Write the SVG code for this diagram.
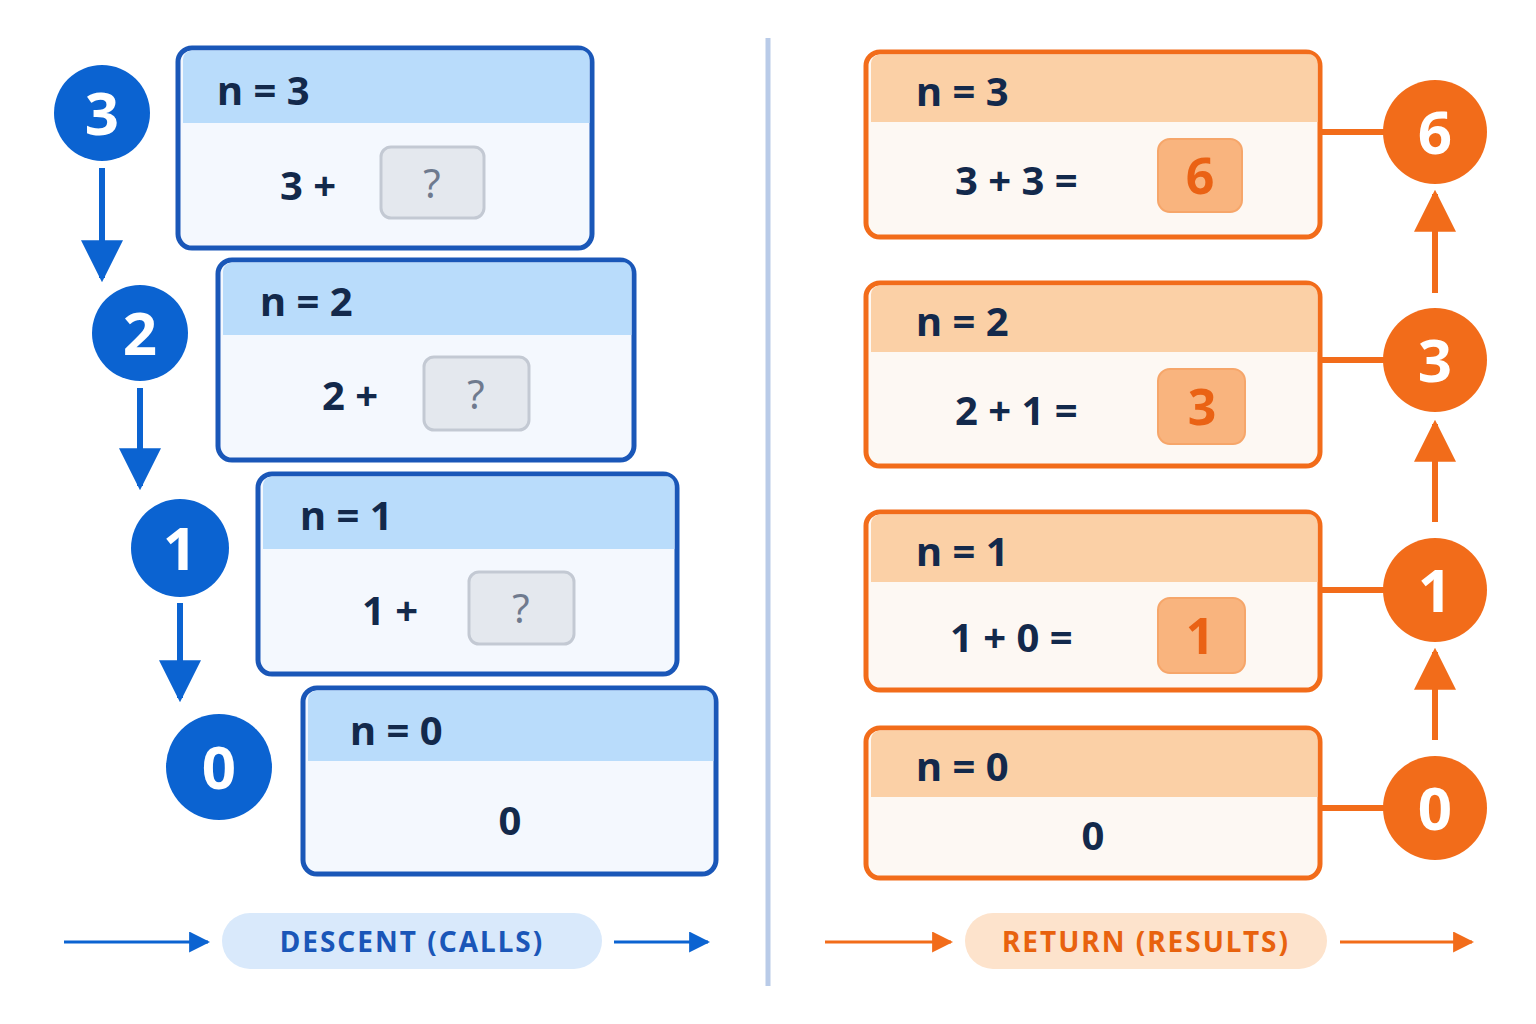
<svg xmlns="http://www.w3.org/2000/svg" width="1536" height="1024" viewBox="0 0 1536 1024">
<style>
text{font-family:"Noto Sans","Open Sans",sans-serif;font-weight:bold}
.bb{fill:#f4f8fe;stroke:#1a57b8;stroke-width:5}
.bh{fill:#b9dcfb}
.ob{fill:#fdf8f3;stroke:#f26c1a;stroke-width:5}
.oh{fill:#fbd0a6}
.t{fill:#13294b;font-size:40px}
.q{fill:#e4e8ee;stroke:#c3c9d3;stroke-width:3}
.qt{fill:#6f7a8e;font-size:40px;font-weight:normal}
.r{fill:#f9b47e;stroke:#f6a66a;stroke-width:2}
.rt{fill:#ea6214;font-size:50px}
.bc{fill:#0b63d1}
.oc{fill:#f26c1a}
.ct{fill:#fff;font-size:60px;text-anchor:middle}
.bl{stroke:#0b63d1;stroke-width:6;fill:none}
.ol{stroke:#f26c1a;stroke-width:6;fill:none}
.thin{stroke-width:3}
</style>
<defs>
<marker id="ab" viewBox="0 0 10 10" refX="9" refY="5" markerWidth="7" markerHeight="7" markerUnits="userSpaceOnUse" orient="auto"><path d="M0,0L10,5L0,10z" fill="#0b63d1"/></marker>
<marker id="abig" viewBox="0 0 10 10" refX="9" refY="5" markerWidth="7" markerHeight="7" orient="auto"><path d="M0,0L10,5L0,10z" fill="#0b63d1"/></marker>
<marker id="obig" viewBox="0 0 10 10" refX="9" refY="5" markerWidth="7" markerHeight="7" orient="auto"><path d="M0,0L10,5L0,10z" fill="#f26c1a"/></marker>
<marker id="bs" viewBox="0 0 10 10" refX="9" refY="5" markerWidth="7" markerHeight="7" orient="auto"><path d="M0,0L10,5L0,10z" fill="#0b63d1"/></marker>
<marker id="os" viewBox="0 0 10 10" refX="9" refY="5" markerWidth="7" markerHeight="7" orient="auto"><path d="M0,0L10,5L0,10z" fill="#f26c1a"/></marker>
</defs>
<rect width="1536" height="1024" fill="#fff"/>
<line x1="768" y1="38" x2="768" y2="986" stroke="#b9cbe8" stroke-width="5"/>

<g id="connectors">
<line class="bl" x1="102" y1="168" x2="102" y2="278" marker-end="url(#abig)"/>
<line class="bl" x1="140" y1="388" x2="140" y2="486" marker-end="url(#abig)"/>
<line class="bl" x1="180" y1="603" x2="180" y2="698" marker-end="url(#abig)"/>
<line class="ol" x1="1435" y1="293" x2="1435" y2="194" marker-end="url(#obig)"/>
<line class="ol" x1="1435" y1="522" x2="1435" y2="424" marker-end="url(#obig)"/>
<line class="ol" x1="1435" y1="740" x2="1435" y2="652" marker-end="url(#obig)"/>
<line class="ol" x1="1320" y1="132" x2="1384" y2="132"/>
<line class="ol" x1="1320" y1="360" x2="1384" y2="360"/>
<line class="ol" x1="1320" y1="590" x2="1384" y2="590"/>
<line class="ol" x1="1320" y1="808" x2="1384" y2="808"/>
<line class="bl thin" x1="64" y1="942" x2="208" y2="942" marker-end="url(#bs)"/>
<line class="bl thin" x1="614" y1="942" x2="708" y2="942" marker-end="url(#bs)"/>
<line class="ol thin" x1="825" y1="942" x2="951" y2="942" marker-end="url(#os)"/>
<line class="ol thin" x1="1340" y1="942" x2="1472" y2="942" marker-end="url(#os)"/>
</g>

<g id="c3"><circle class="bc" cx="102" cy="113" r="48"/><text class="ct" x="102" y="135">3</text></g>
<g id="c2"><circle class="bc" cx="140" cy="333" r="48"/><text class="ct" x="140" y="355">2</text></g>
<g id="c1"><circle class="bc" cx="180" cy="548" r="49"/><text class="ct" x="180" y="570">1</text></g>
<g id="c0"><circle class="bc" cx="219" cy="767" r="53"/><text class="ct" x="219" y="789">0</text></g>

<g id="b3"><rect class="bb" x="178" y="48" width="414" height="200" rx="14"/><path class="bh" d="M183,60a9,9 0 0 1 9,-9.5h386a9,9 0 0 1 11.5,9.5v63h-406.5z"/><text class="t" x="217" y="105">n = 3</text><text class="t" x="280" y="200">3 +</text><rect class="q" x="381" y="147" width="103" height="71" rx="10"/><text class="qt" x="432" y="198" text-anchor="middle">?</text></g>
<g id="b2"><rect class="bb" x="218" y="260" width="416" height="200" rx="14"/><path class="bh" d="M223,272a9,9 0 0 1 9,-9.5h388a9,9 0 0 1 11.5,9.5v63h-408.5z"/><text class="t" x="260" y="316">n = 2</text><text class="t" x="322" y="410">2 +</text><rect class="q" x="424" y="357" width="105" height="73" rx="10"/><text class="qt" x="476" y="409" text-anchor="middle">?</text></g>
<g id="b1"><rect class="bb" x="258" y="474" width="419" height="200" rx="14"/><path class="bh" d="M263,486a9,9 0 0 1 9,-9.5h391a9,9 0 0 1 11.5,9.5v63h-411.5z"/><text class="t" x="300" y="530">n = 1</text><text class="t" x="362" y="625">1 +</text><rect class="q" x="469" y="572" width="105" height="72" rx="10"/><text class="qt" x="521" y="623" text-anchor="middle">?</text></g>
<g id="b0"><rect class="bb" x="303" y="688" width="413" height="186" rx="14"/><path class="bh" d="M308,700a9,9 0 0 1 9,-9.5h385a9,9 0 0 1 11.5,9.5v61h-405.5z"/><text class="t" x="350" y="745">n = 0</text><text class="t" x="510" y="835" font-size="56" text-anchor="middle">0</text></g>

<g id="r3"><rect class="ob" x="866" y="52" width="454" height="185" rx="14"/><path class="oh" d="M871,64a9,9 0 0 1 9,-9.5h426a9,9 0 0 1 11.5,9.5v58h-446.5z"/><text class="t" x="916" y="106">n = 3</text><text class="t" x="955" y="195" xml:space="preserve">3 + 3 =</text><rect class="r" x="1158" y="139" width="84" height="73" rx="12"/><text class="rt" x="1200" y="194" text-anchor="middle">6</text></g>
<g id="r2"><rect class="ob" x="866" y="283" width="454" height="183" rx="14"/><path class="oh" d="M871,295a9,9 0 0 1 9,-9.5h426a9,9 0 0 1 11.5,9.5v57h-446.5z"/><text class="t" x="916" y="336">n = 2</text><text class="t" x="955" y="425">2 + 1 =</text><rect class="r" x="1158" y="369" width="87" height="75" rx="12"/><text class="rt" x="1202" y="425" text-anchor="middle">3</text></g>
<g id="r1"><rect class="ob" x="866" y="512" width="454" height="178" rx="14"/><path class="oh" d="M871,524a9,9 0 0 1 9,-9.5h426a9,9 0 0 1 11.5,9.5v58h-446.5z"/><text class="t" x="916" y="566">n = 1</text><text class="t" x="950" y="652">1 + 0 =</text><rect class="r" x="1158" y="598" width="87" height="75" rx="12"/><text class="rt" x="1200" y="654" text-anchor="middle">1</text></g>
<g id="r0"><rect class="ob" x="866" y="728" width="454" height="150" rx="14"/><path class="oh" d="M871,740a9,9 0 0 1 9,-9.5h426a9,9 0 0 1 11.5,9.5v57h-446.5z"/><text class="t" x="916" y="781">n = 0</text><text class="t" x="1093" y="850" text-anchor="middle">0</text></g>

<g id="o6"><circle class="oc" cx="1435" cy="132" r="52"/><text class="ct" x="1435" y="154">6</text></g>
<g id="o3"><circle class="oc" cx="1435" cy="360" r="52"/><text class="ct" x="1435" y="382">3</text></g>
<g id="o1"><circle class="oc" cx="1435" cy="590" r="52"/><text class="ct" x="1435" y="612">1</text></g>
<g id="o0"><circle class="oc" cx="1435" cy="808" r="52"/><text class="ct" x="1435" y="830">0</text></g>

<g id="descent"><rect x="222" y="913" width="380" height="56" rx="28" fill="#d9e9fb"/><text x="412" y="952" text-anchor="middle" font-size="28" fill="#1a56b8" letter-spacing="2">DESCENT (CALLS)</text></g>
<g id="return"><rect x="965" y="913" width="362" height="56" rx="28" fill="#fde3cc"/><text x="1146" y="952" text-anchor="middle" font-size="28" fill="#e8620e" letter-spacing="2">RETURN (RESULTS)</text></g>
</svg>
